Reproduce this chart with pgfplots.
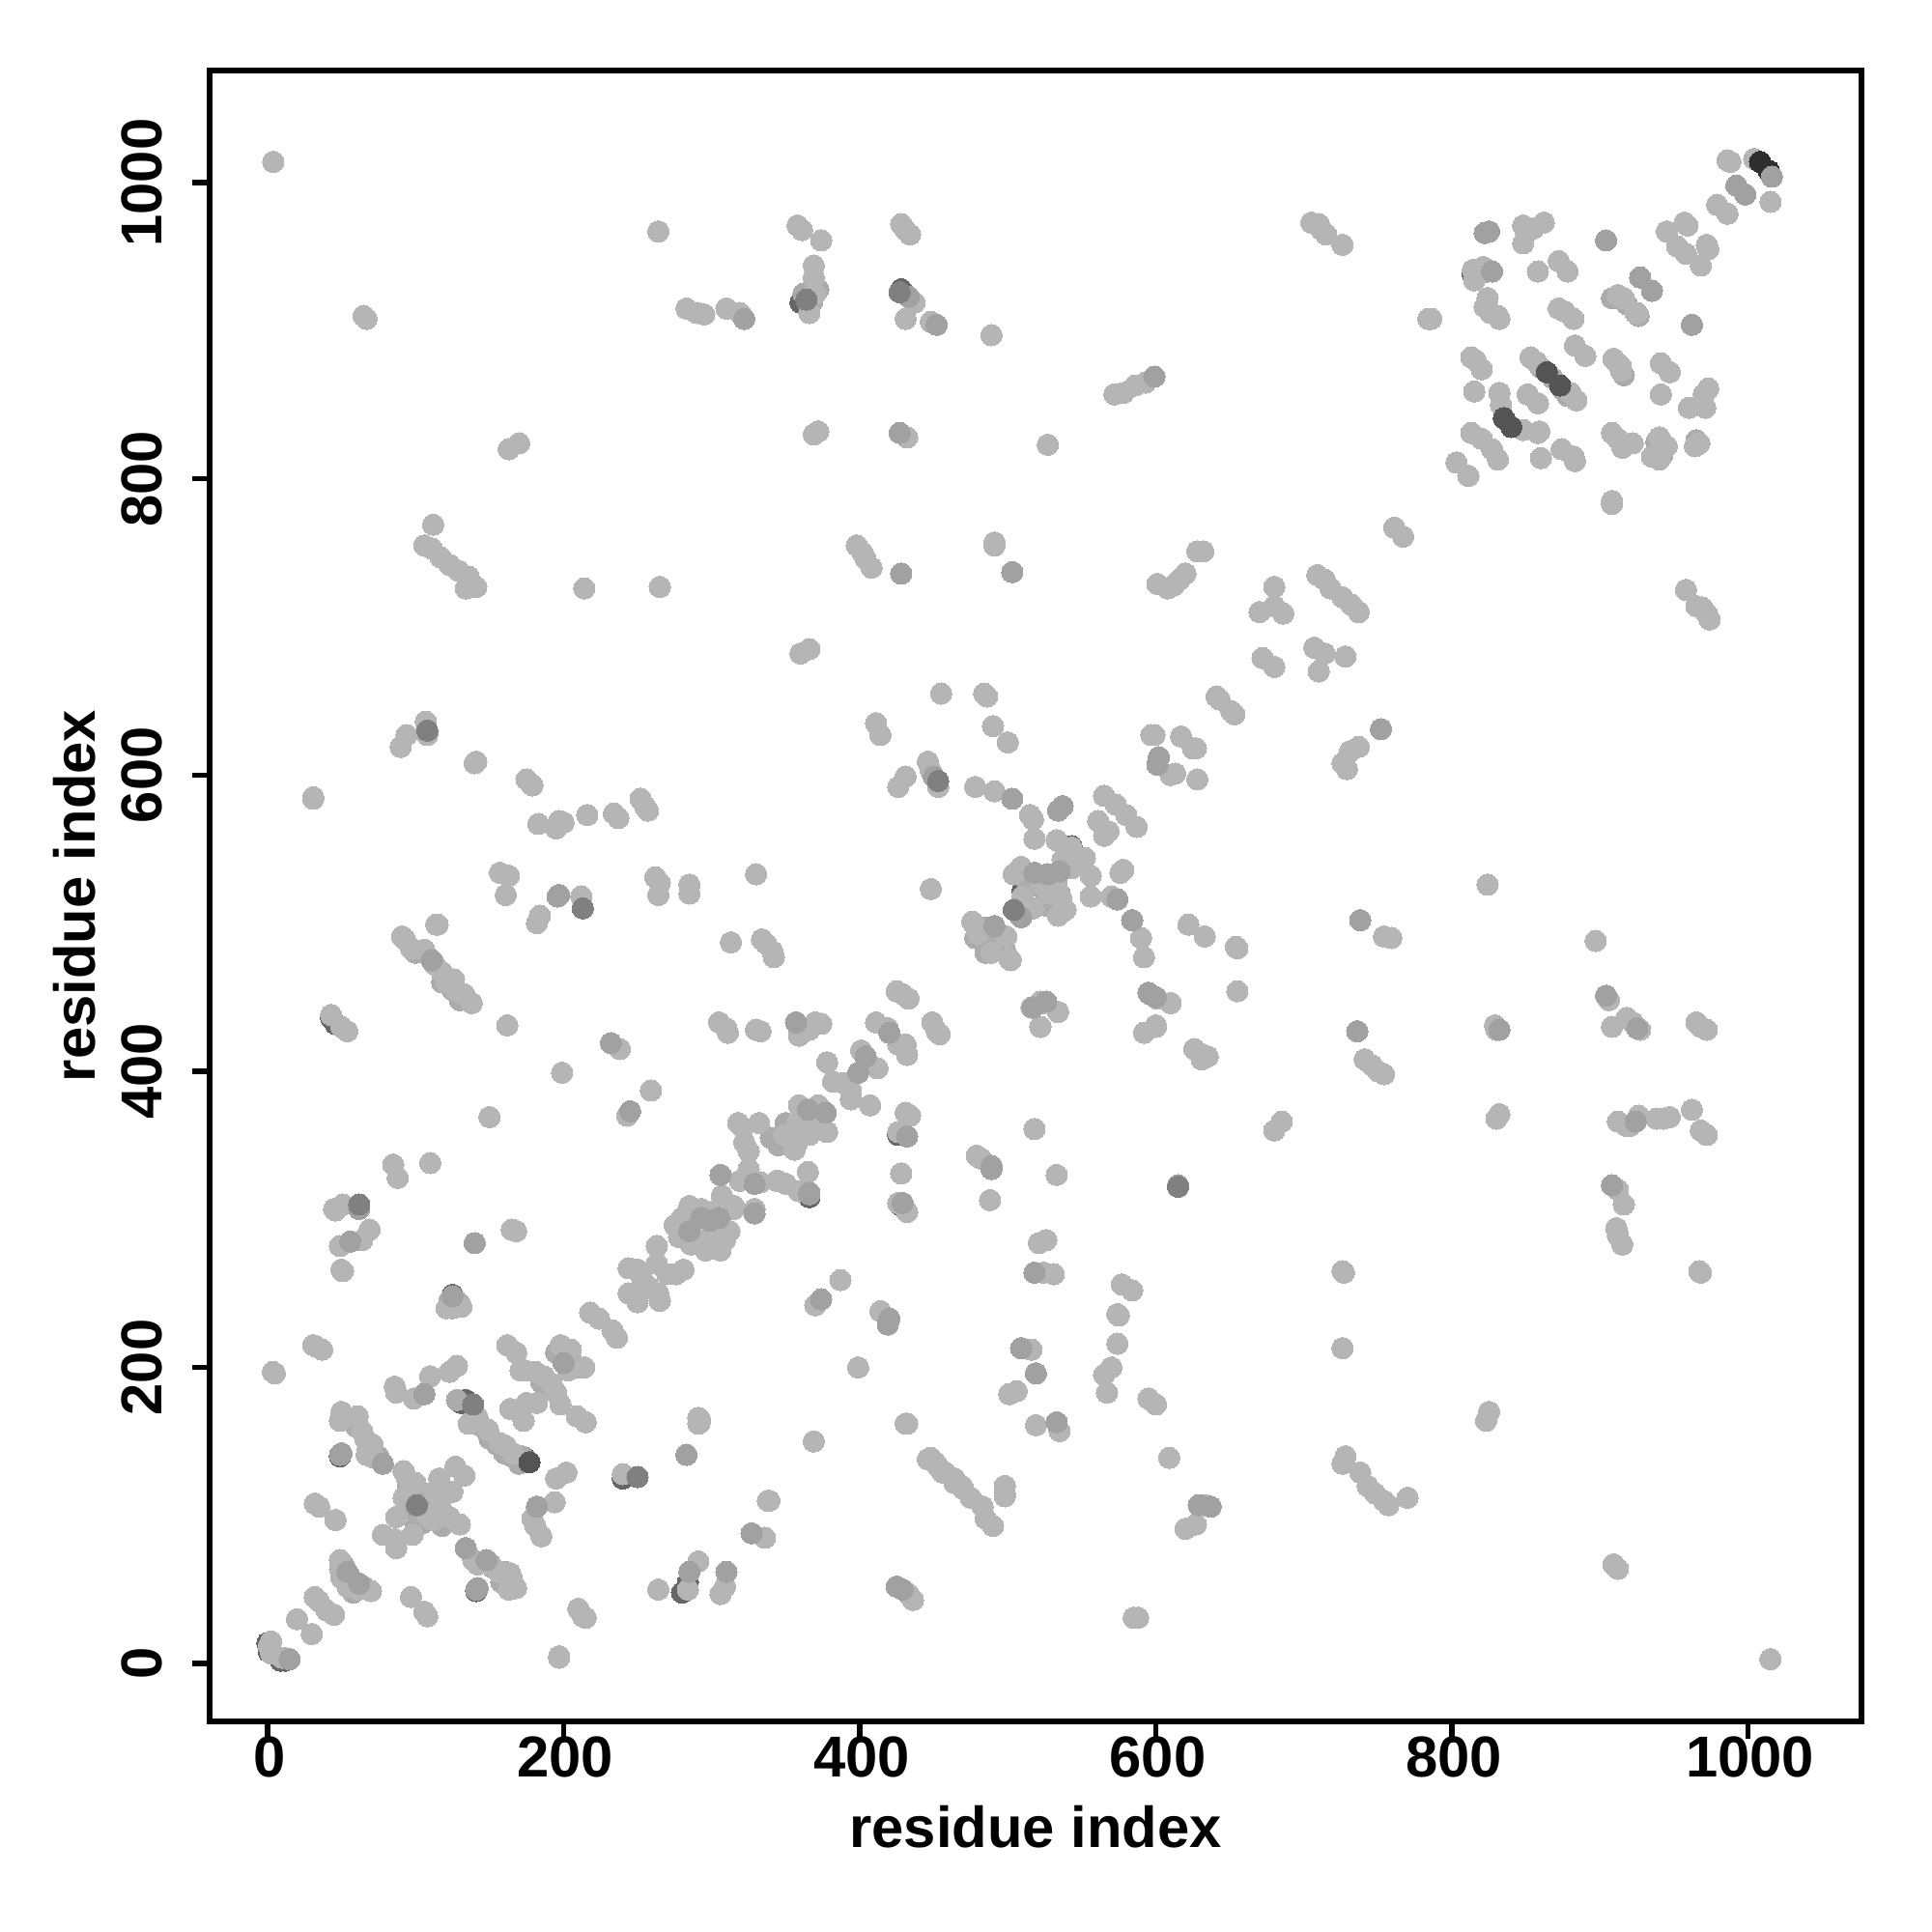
\documentclass[border=0pt]{standalone}
\usepackage{fontspec}
\setmainfont{Liberation Sans}
\usepackage{pgfplots}
\pgfplotsset{compat=1.18}
\pgfplotsset{dot/.style={only marks,mark=*,mark size=3.15pt,color=#1,mark options={line width=0pt}}}
\begin{document}
\begin{tikzpicture}
\useasboundingbox (0,0) rectangle (20cm,20cm);
\begin{axis}[
 at={(2.17cm,2.18cm)},anchor=south west,scale only axis,width=17.1cm,height=17.09cm,
 xmin=-39,xmax=1076.5,ymin=-39,ymax=1075.7,
 axis line style={line width=0.06cm},
 tick style={line width=0.055cm,black},major tick length=0.18cm,tick align=outside,
 xtick={0,200,400,600,800,1000},ytick={0,200,400,600,800,1000},
 xtick pos=bottom,ytick pos=left,
 /pgf/number format/assume math mode=true,
 /pgf/number format/set thousands separator={},
 tick label style={font=\fontsize{17}{18}\selectfont\bfseries},
 xticklabel style={anchor=north,yshift=0.15cm,xshift=0.02cm},
 yticklabel style={rotate=90,anchor=south,yshift=0.19cm},
 label style={font=\fontsize{17}{18}\selectfont\bfseries},
 xlabel={residue index},ylabel={residue index},
 xlabel style={at={(axis description cs:0.5,-0.064)},anchor=center},
 ylabel style={at={(axis description cs:-0.082,0.5)},anchor=center},
 clip=false,
]
% dark underlays
\addplot[dot=black!60] coordinates {
(0,14)(1,8)(9,2)(12,2)(141,49)(125,249)(134,178)(131,176)(174,139)(170,136)(49,140)(46,432)(43,436)(240,125)(280,48)(284,55)(428,928)(360,919)(814,938)(915,922)(912,924)(427,310)(360,430)(426,357)(366,315)(510,522)(530,522)(543,552)(552,544)
};
% light, a little darker
\addplot[dot=black!33] coordinates {
(55,60)(58,56)(52,66)(65,52)(58,48)(145,68)(152,65)(160,62)(165,58)(158,55)(95,120)(105,115)(110,105)(115,100)(105,95)(95,105)(100,92)(118,93)
(128,178)(145,160)(150,152)(155,148)(160,142)(165,140)(170,135)(172,140)(185,190)(190,185)(205,205)(210,200)(195,210)(55,165)(60,160)(68,145)(75,140)
(100,480)(118,460)(125,455)(130,448)(135,448)(340,355)(345,350)(355,360)(362,370)(368,368)(375,362)(350,365)
(478,490)(485,497)(495,485)(490,490)(498,482)(485,480)(515,530)(520,525)(525,530)(530,515)(512,530)(535,520)(525,512)
(860,875)(868,868)(875,860)(878,856)(818,938)(820,940)(824,940)(912,878)(916,870)(943,820)(938,825)(942,816)(965,826)(908,922)(918,918)(926,910)(362,925)(368,920)(372,928)
(123,245)(128,245)(125,240)(130,243)
};
% light
\addplot[dot=black!29] coordinates {
(2.5,15)(1,12)(2.5,7)(10,4)(20,30)(30,20)(32,45)(35,42)(40,36)(45,33)(49,70)(49,64)(50,58)(54,52)(62,50)(70,49)
(97,45)(106,35)(108,32)(139,70)(142,67)(151,67)(156,62)(164,61)(166,54)(163,50)(168,51)(210,37)(213,32)(215,31)(197,4)(197,5)
(264,50)(291,69)(284,50)(309,52)(306,47)(336,85)(338,110)(240,128)(291,166)(291,162)(194,109)(179,98)(181,93)(185,86)(202,129)(195,125)
(166,142)(157,149)(149,158)(142,166)(136,162)(161,147)(215,163)(209,167)(198,175)(195,183)(192,189)(187,194)(181,197)(174,198)(171,198)(175,176)(182,176)(164,172)(173,164)(214,200)(205,212)(198,215)(203,198)
(168,210)(162,215)(128,201)(123,197)(110,194)(86,187)(87,183)(99,179)(3.7,197)(5,196)(31,215)(33,214)(37,212)
(50,170)(49,164)(61,167)(64,157)(66,152)(71,148)(67,141)(72,139)(92,130)(94,126)(100,122)(116,125)(127,133)(133,127)
(92,112)(108,100)(112,97)(113,116)(125,116)(117,110)(123,99)(130,94)(87,99)(78,87)(86,84)(87,78)(98,87)(32,108)(35,106)(46,97)
(165,293)(168,292)(218,237)(224,233)(233,225)(236,220)(244,267)(250,266)(253,260)(263,282)(263,270)(270,263)(281,266)(276,263)(244,250)(250,244)(258,254)(265,245)(264,250)
(126,241)(131,241)(121,240)(50,266)(51,265)(49,282)(64,286)(69,293)(46,306)
(107,636)(108,627)(94,627)(90,619)(140,608)(141,609)(31,585)(31,584)(175,597)(178,594)(179,593)(183,567)(195,564)(197,569)(200,568)(216,573)(234,574)(237,571)(252,584)(255,579)(257,576)
(157,534)(163,532)(161,519)(212,518)(184,505)(182,500)(262,531)(265,527)(264,519)(285,526)(285,520)(330,533)(313,487)(334,489)(337,486)(341,481)(342,477)(114,499)(115,499)
(91,491)(93,489)(97,483)(106,482)(113,472)(118,467)(121,460)(126,462)(128,454)(133,452)(138,446)(43,438)(50,430)(54,427)(162,431)(238,415)(199,399)(150,369)(259,387)(243,370)
(85,337)(88,328)(110,338)(45,307)(51,310)(318,365)(321,362)(332,365)(322,352)(325,346)(325,334)(333,325)(344,326)(319,326)(307,316)(315,309)(329,307)(285,309)(293,307)(300,305)
(305,433)(310,429)(311,426)(330,428)(333,427)
(280,301)(292,286)(309,286)(301,280)(315,307)(306,279)(275,296)(278,288)(286,283)(296,279)(303,293)(312,292)
(425,454)(429,452)(433,449)(359,428)(370,433)(374,432)(366,428)(359,424)(411,433)(419,429)(426,418)(431,418)(432,411)(449,433)(452,427)(454,425)
(378,406)(401,414)(412,402)(382,393)(389,392)(394,387)(394,381)(407,377)(359,377)(372,377)(358,365)(349,357)(358,352)(356,347)(366,357)(378,359)(371,365)
(431,372)(434,370)(426,359)(365,332)(345,326)(350,324)(359,319)(426,311)(432,305)(428,331)(479,343)(482,341)(518,361)(533,330)(488,313)
(524,446)(534,440)(522,430)(601,449)(610,446)(592,426)(600,431)(655,454)(626,415)(635,410)(631,408)(685,366)(680,360)(526,286)(521,284)(524,264)(531,263)(577,256)(584,252)(574,236)(575,235)(574,216)(727,264)(726,213)
(516,212)(570,200)(565,195)(567,183)(501,182)(506,184)(595,179)(600,175)(387,259)(370,242)(414,238)(399,200)(432,162)(519,161)(535,157)(369,150)(609,139)(446,138)(451,136)(456,129)(464,125)(469,120)(498,120)(727,136)
(455,655)(484,655)(486,653)(490,633)(500,622)(446,609)(448,603)(453,592)(478,592)(491,589)(515,573)(517,570)(518,557)(533,556)(543,551)(552,544)(537,543)(543,537)(556,532)
(565,586)(573,580)(580,573)(587,565)(561,569)(568,562)(565,559)(509,538)(504,533)(533,526)(522,527)(528,520)(536,517)(539,509)(534,505)(510,518)(517,510)
(578,536)(576,534)(556,518)(570,518)(590,490)(592,477)(622,499)(633,491)(654,484)(655,483)(655,454)(477,500)(476,501)(499,491)(480,493)(489,480)(501,476)(502,475)
(597,627)(599,627)(617,626)(627,618)(625,618)(610,600)(613,601)(628,597)(641,653)(643,651)(651,643)(653,641)(737,619)(731,616)(726,608)(729,604)(754,491)(759,490)
(741,408)(746,404)(750,400)(754,398)(610,446)(592,426)(600,430)(630,412)(634,410)(449,433)(454,425)(522,447)(516,443)(522,430)(534,440)(448,523)
(986,1015)(988,1014)(1004,1016)(1015,987)(979,985)(986,979)(957,973)(959,971)(945,967)(952,957)(958,952)(972,958)(973,955)(968,944)
(862,973)(855,969)(848,971)(850,966)(848,959)(872,947)(878,940)(858,940)(814,941)(815,934)(821,943)(824,922)(822,916)(826,912)(831,910)(832,908)(786,908)(784,908)
(872,915)(882,908)(876,913)(912,924)(916,922)(924,912)(925,912)(813,882)(816,880)(820,874)(815,859)(853,882)(857,879)(880,858)(884,853)(851,857)(858,851)(883,890)(890,883)
(909,881)(914,873)(914,876)(941,878)(947,872)(941,857)(973,861)(970,857)(971,848)(960,848)(832,858)(833,850)(848,833)(858,831)(859,832)(813,831)(820,827)(827,820)(831,813)(803,811)(811,802)(860,814)(874,820)(882,815)(883,812)
(908,831)(912,827)(915,821)(922,824)(940,828)(945,822)(935,815)(940,813)(967,824)(964,822)(908,785)(908,783)
(4,1014)(65,910)(67,908)(112,769)(106,755)(111,753)(117,747)(123,742)(129,738)(136,734)(134,726)(141,727)(163,820)(170,824)(214,726)(265,727)(264,967)
(283,915)(290,912)(295,911)(310,915)(319,912)(358,971)(361,968)(374,961)(369,944)(369,936)(370,925)(366,912)(369,830)(372,832)(428,972)(431,968)(434,965)(437,919)(431,908)(448,906)(432,828)(489,897)(527,823)
(572,857)(578,858)(586,863)(593,865)(705,973)(710,972)(712,968)(715,965)(726,958)(785,908)(398,755)(402,750)(404,746)(408,740)(491,757)(491,755)
(601,729)(608,726)(612,728)(616,732)(620,736)(628,751)(632,751)(709,735)(714,732)(718,726)(726,720)(732,715)(737,710)(680,727)(670,710)(680,714)(686,709)(672,679)(680,673)(707,686)(714,682)(710,670)(728,680)(761,767)(767,761)
(958,725)(965,714)(969,713)(972,709)(974,705)(360,682)(366,685)(411,635)(414,627)(431,599)(426,592)
(824,526)(897,488)(829,431)(830,428)(906,448)(908,430)(918,436)(922,433)(927,428)(965,433)(968,430)(972,428)(832,371)(830,368)(912,366)(918,363)(920,363)(926,370)(938,368)(943,368)(947,369)(962,374)(968,360)(972,357)
(912,320)(916,310)(911,294)(912,289)(915,283)(967,265)(968,264)(823,164)(825,170)(909,67)(912,64)(1015,3)(726,265)(726,213)(728,140)(726,135)(738,129)(743,120)(748,115)(754,110)(757,107)(770,112)
(620,91)(627,94)(629,107)(633,107)(585,31)(588,31)(448,139)(453,133)(458,129)(464,122)(470,118)(475,112)(483,106)(485,98)(490,93)(498,115)(498,113)(431,162)(369,150)(433,47)(436,43)(292,165)(292,163)(339,110)
};
% mid
\addplot[dot=black!37] coordinates {
(15,3)(54,62)(62,54)(141,50)(142,51)(134,78)(148,70)(285,62)(310,62)(327,88)(283,141)(182,106)(78,135)(200,203)(106,182)(125,248)(56,285)(140,284)(62,307)
(108,630)(196,518)(197,519)(49,141)(50,142)(111,475)(232,419)(245,373)(62,310)(306,330)(329,324)(357,433)(365,374)(377,372)(420,426)(404,410)(399,399)(432,356)(366,317)(429,311)(489,336)(489,334)(517,443)(595,453)
(299,299)(285,292)(305,301)(293,301)(329,304)
(518,264)(509,213)(519,196)(374,246)(420,233)(419,229)(533,163)(450,599)(503,584)(534,576)(537,579)(518,534)(527,533)(574,516)(509,504)(584,502)(491,498)(602,612)(601,607)(752,631)(738,502)(736,427)(596,452)(600,450)(526,447)
(992,998)(998,992)(1016,1004)(825,967)(822,966)(827,940)(904,961)(927,936)(935,927)(962,904)(322,908)(433,923)(452,904)(427,831)(599,869)(428,736)(503,737)(904,451)(832,428)(925,429)(924,366)(908,323)(615,323)(629,107)(637,106)(425,52)(429,50)(366,318)(535,535)
};
% dark
\addplot[dot=black!50] coordinates {
(101,107)(139,175)(177,136)(213,510)(62,310)(250,126)(108,630)(504,509)(453,596)(364,921)(427,926)(615,322)
};
\addplot[dot=black!67] coordinates {
(835,841)(840,835)(864,872)(873,863)(177,136)
};
\addplot[dot=black!82] coordinates {
(1014,1008)(1008,1014)
};
\addplot[dot=black!37] coordinates {(1016,1004)};
\end{axis}
\end{tikzpicture}
\end{document}
